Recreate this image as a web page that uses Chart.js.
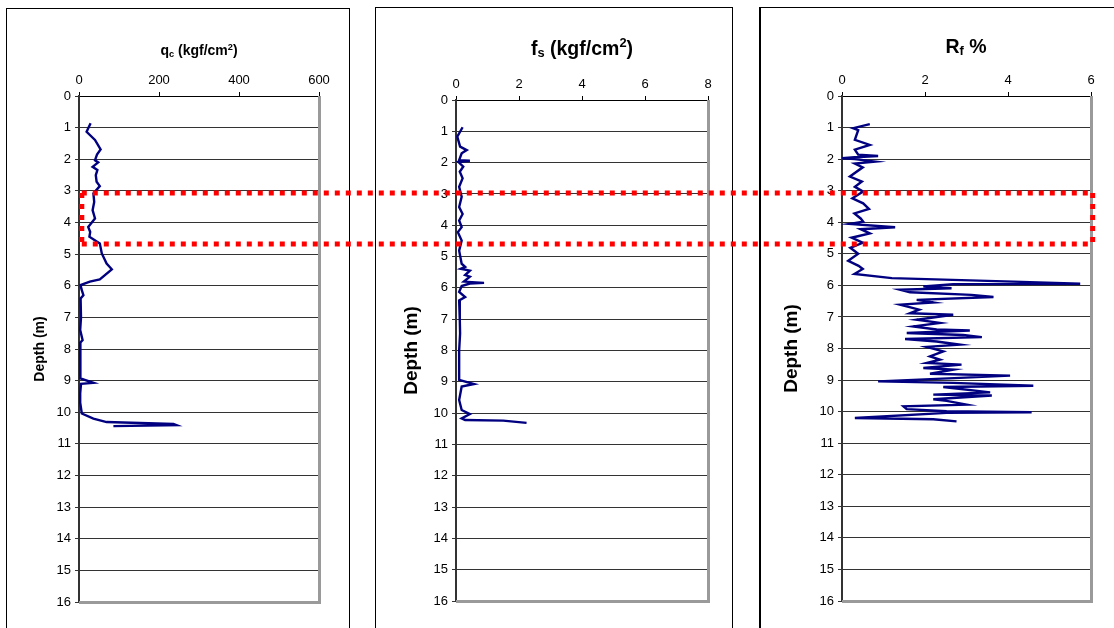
<!DOCTYPE html>
<html>
<head>
<meta charset="utf-8">
<script src="https://cdn.jsdelivr.net/npm/chart.js@4"></script>
<style>
  body { margin: 0; background: #fff; }
  #page { position: relative; width: 1114px; height: 628px; overflow: hidden; background: #fff; }
  .cadre { position: absolute; border: 1px solid #000; box-sizing: border-box; height: 640px; }
  canvas { position: absolute; }
  .titre { position: absolute; transform: translate(-50%, -50%); font-family: "Liberation Sans", Arial, sans-serif; font-weight: bold; white-space: nowrap; color: #000; }
  .titre sub { font-size: 66%; vertical-align: -0.2em; line-height: 0; }
  .titre sup { font-size: 66%; vertical-align: 0.55em; line-height: 0; }
</style>
</head>
<body>
<div id="page">
  <div class="cadre" style="left:6px;top:8px;width:344px;"></div>
  <div class="cadre" style="left:375px;top:7px;width:358px;"></div>
  <div class="cadre" style="left:759px;top:7px;width:380px;border-left-width:2px;"></div>

  <canvas id="g-qc" width="341" height="619" style="left:7px;top:9px;"></canvas>
  <canvas id="g-fs" width="356" height="620" style="left:376px;top:8px;"></canvas>
  <canvas id="g-rf" width="352" height="620" style="left:761px;top:8px;"></canvas>

  <div class="titre" style="left:199px;top:50px;font-size:14px;">q<sub>c</sub> (kgf/cm<sup>2</sup>)</div>
  <div class="titre" style="left:582px;top:48px;font-size:19.5px;">f<sub>s</sub> (kgf/cm<sup>2</sup>)</div>
  <div class="titre" style="left:966px;top:46px;font-size:19.5px;">R<sub>f</sub> %</div>

  <canvas id="surlignage" width="1114" height="628" style="left:0;top:0;pointer-events:none;"></canvas>
</div>

<script>
const depthQc = [0.86, 1.13, 1.39, 1.69, 1.85, 2.03, 2.1, 2.24, 2.34, 2.5, 2.71, 2.85, 3.08, 3.35, 3.61, 3.87, 4.14, 4.3, 4.45, 4.66, 4.98, 5.3, 5.48, 5.8, 5.87, 5.98, 6.1, 6.3, 6.4, 7.0, 7.4, 7.72, 7.8, 8.4, 8.93, 9.07, 9.1, 9.4, 9.7, 10.04, 10.2, 10.31, 10.37, 10.41, 10.44];
const qcVals  = [29, 19, 40, 54, 45, 40, 48, 34, 46, 42, 44, 52, 36, 38, 34, 40, 23, 28, 26, 52, 57, 69, 82, 52, 27, 4, 6, 11, 4, 5, 3, 9, 3, 4, 3, 36, 5, 3, 3, 7, 36, 69, 236, 244, 86];

const depthFs = [0.87, 1.17, 1.49, 1.6, 1.7, 1.92, 1.94, 1.98, 2.13, 2.29, 2.5, 2.77, 3.09, 3.42, 3.64, 3.85, 4.06, 4.22, 4.49, 4.81, 5.23, 5.33, 5.39, 5.45, 5.59, 5.64, 5.8, 5.84, 5.86, 5.94, 6.13, 6.29, 6.4, 7.0, 7.46, 8.0, 8.5, 8.94, 9.07, 9.15, 9.58, 9.9, 10.03, 10.17, 10.22, 10.24, 10.31];
const fsVals  = [0.21, 0.04, 0.13, 0.34, 0.18, 0.1, 0.44, 0.08, 0.23, 0.12, 0.21, 0.1, 0.18, 0.1, 0.21, 0.1, 0.18, 0.06, 0.18, 0.1, 0.18, 0.29, 0.15, 0.44, 0.29, 0.44, 0.25, 0.89, 0.44, 0.18, 0.1, 0.29, 0.1, 0.12, 0.13, 0.1, 0.1, 0.1, 0.57, 0.18, 0.1, 0.18, 0.44, 0.18, 0.29, 1.5, 2.24];

const depthRf = [0.89, 1.02, 1.08, 1.39, 1.55, 1.7, 1.86, 1.9, 1.94, 1.97, 2.0, 2.08, 2.14, 2.26, 2.55, 2.71, 2.88, 3.03, 3.24, 3.4, 3.58, 3.72, 3.88, 3.98, 4.05, 4.16, 4.22, 4.35, 4.49, 4.65, 4.81, 5.0, 5.22, 5.38, 5.48, 5.64, 5.77, 5.88, 5.95, 5.96, 6.03, 6.09, 6.14, 6.22, 6.3, 6.37, 6.46, 6.54, 6.61, 6.77, 6.88, 6.93, 7.09, 7.19, 7.3, 7.4, 7.43, 7.51, 7.57, 7.64, 7.7, 7.78, 7.88, 7.95, 8.09, 8.25, 8.35, 8.46, 8.51, 8.62, 8.67, 8.8, 8.86, 8.93, 9.04, 9.09, 9.18, 9.22, 9.39, 9.46, 9.49, 9.61, 9.66, 9.78, 9.83, 9.92, 9.99, 10.02, 10.04, 10.2, 10.24, 10.31];
const rfVals  = [0.67, 0.27, 0.39, 0.31, 0.67, 0.31, 0.39, 0.87, 0.3, 0.0, 0.31, 0.8, 0.31, 0.5, 0.19, 0.48, 0.31, 0.51, 0.25, 0.51, 0.65, 0.3, 0.45, 0.51, 0.19, 1.28, 0.45, 0.67, 0.23, 0.5, 0.2, 0.39, 0.15, 0.4, 0.5, 0.3, 1.2, 4.13, 5.74, 2.68, 1.96, 2.64, 1.4, 1.64, 3.12, 3.65, 1.8, 2.2, 1.4, 1.86, 1.64, 2.68, 1.8, 2.36, 1.72, 2.28, 3.08, 1.56, 2.92, 3.37, 1.52, 2.28, 2.84, 2.04, 2.44, 2.12, 2.36, 2.04, 2.88, 1.96, 2.68, 2.12, 4.05, 2.84, 0.87, 2.68, 4.61, 2.44, 3.57, 2.2, 3.61, 2.2, 2.52, 3.0, 1.48, 1.56, 2.52, 4.57, 2.52, 0.31, 2.2, 2.76];

const depthTicks = 16;

// zone encadree en pointilles rouges
const zoneDepthTop = 3.07;
const zoneDepthBottom = 4.68;
const zoneQcLeft = 7;
const zoneRfRight = 6.04;

const police = '"Liberation Sans", Arial, sans-serif';

const cadreGris = {
  id: 'cadreGris',
  afterDatasetsDraw(chart) {
    const { ctx, chartArea: a } = chart;
    ctx.save();
    ctx.strokeStyle = '#9a9a9a';
    ctx.lineWidth = 3;
    ctx.beginPath();
    ctx.moveTo(a.right + 0.5, a.top);
    ctx.lineTo(a.right + 0.5, a.bottom + 0.5);
    ctx.lineTo(a.left, a.bottom + 0.5);
    ctx.stroke();
    ctx.restore();
  }
};

function creerGraphe(id, depths, values, o) {
  const canvas = document.getElementById(id);
  const points = depths.map((d, i) => ({ x: values[i], y: d }));
  return new Chart(canvas, {
    type: 'scatter',
    data: {
      datasets: [{
        data: points,
        showLine: true,
        borderColor: '#000080',
        borderWidth: 2.4,
        pointRadius: 0,
        tension: 0
      }]
    },
    options: {
      responsive: false,
      animation: false,
      devicePixelRatio: 1,
      layout: { padding: { left: 0, top: 0, right: canvas.width - o.area.right, bottom: canvas.height - o.area.bottom } },
      plugins: { legend: { display: false }, tooltip: { enabled: false } },
      scales: {
        x: {
          type: 'linear',
          position: 'top',
          min: 0,
          max: o.xMax,
          ticks: { stepSize: o.xStep, color: '#000', font: { family: police, size: 13 }, padding: 4 },
          grid: { drawOnChartArea: false, tickLength: 4, color: '#000' },
          border: { color: '#000', width: 1 },
          afterFit: s => { s.height = o.area.top; }
        },
        y: {
          type: 'linear',
          reverse: true,
          min: 0,
          max: depthTicks,
          ticks: { stepSize: 1, color: '#000', font: { family: police, size: 13 }, padding: 4 },
          grid: { color: '#333', lineWidth: 1, tickLength: 4 },
          border: { color: '#333', width: 2 },
          title: {
            display: true,
            text: 'Depth (m)',
            color: '#000',
            font: { family: police, weight: 'bold', size: o.yTitleSize },
            padding: { top: o.yTitlePad, bottom: 0 }
          },
          afterFit: s => { s.width = o.area.left; }
        }
      }
    },
    plugins: [cadreGris]
  });
}

const grapheQc = creerGraphe('g-qc', depthQc, qcVals, {
  xMax: 600, xStep: 200, yTitleSize: 14, yTitlePad: 24.6,
  area: { left: 72, top: 87, right: 312, bottom: 593 }
});
const grapheFs = creerGraphe('g-fs', depthFs, fsVals, {
  xMax: 8, xStep: 2, yTitleSize: 19, yTitlePad: 24.6,
  area: { left: 80, top: 92, right: 332, bottom: 593 }
});
const grapheRf = creerGraphe('g-rf', depthRf, rfVals, {
  xMax: 6, xStep: 2, yTitleSize: 19, yTitlePad: 19.6,
  area: { left: 81, top: 88, right: 330, bottom: 593 }
});

// encadre rouge a travers les trois graphes
(function dessinerZone() {
  const c1 = document.getElementById('g-qc');
  const c3 = document.getElementById('g-rf');
  const ctx = document.getElementById('surlignage').getContext('2d');
  const yHaut = c1.offsetTop + grapheQc.scales.y.getPixelForValue(zoneDepthTop);
  const yBas = c1.offsetTop + grapheQc.scales.y.getPixelForValue(zoneDepthBottom);
  const xGauche = c1.offsetLeft + grapheQc.scales.x.getPixelForValue(zoneQcLeft);
  const xDroite = c3.offsetLeft + grapheRf.scales.x.getPixelForValue(zoneRfRight);
  ctx.strokeStyle = '#ff0000';
  ctx.lineWidth = 5;
  ctx.setLineDash([5, 6]);
  const trait = (x1, y1, x2, y2) => {
    ctx.beginPath();
    ctx.moveTo(x1, y1);
    ctx.lineTo(x2, y2);
    ctx.stroke();
  };
  trait(xGauche, yHaut, xDroite, yHaut);
  trait(xGauche, yBas, xDroite, yBas);
  trait(xGauche, yHaut, xGauche, yBas);
  trait(xDroite, yHaut, xDroite, yBas);
})();
</script>
</body>
</html>
